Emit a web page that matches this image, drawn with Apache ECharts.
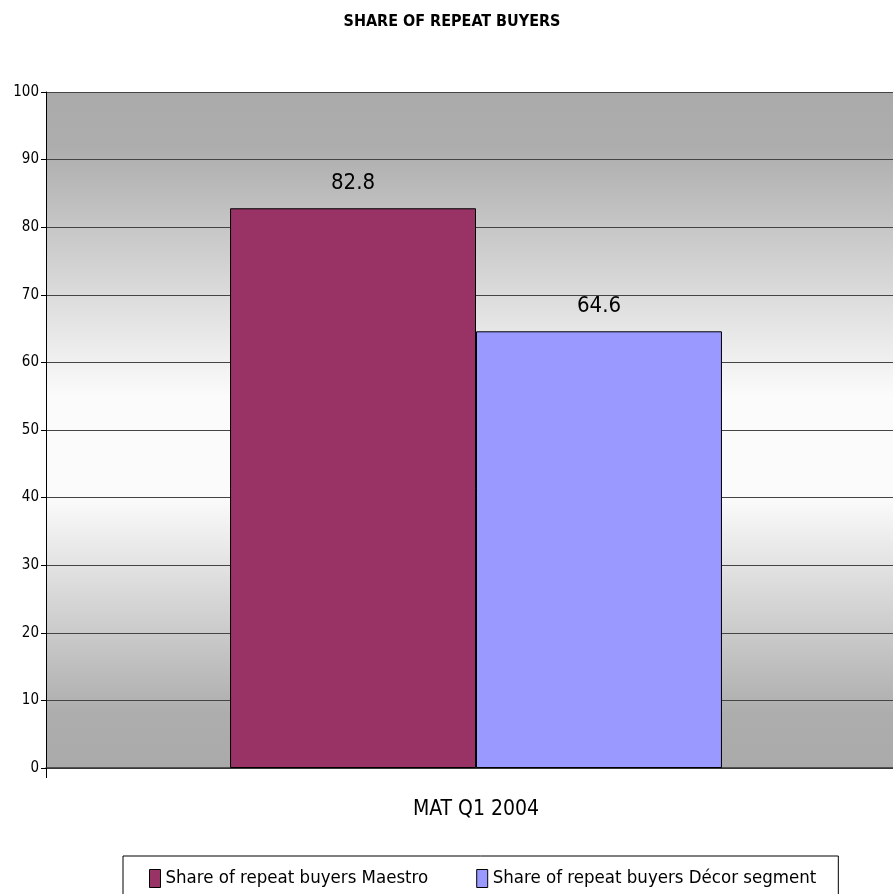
<!DOCTYPE html>
<html>
<head>
<meta charset="utf-8">
<script src="https://cdn.jsdelivr.net/npm/echarts@6/dist/echarts.min.js"></script>
<style>
    html, body { margin: 0; padding: 0; background: #fff; }
    #main { width: 893px; height: 894px; }
</style>
</head>
<body>
<div id="main"></div>
<script>
// 数据
const categories = ['MAT Q1 2004']
const seriesNames = ['Share of repeat buyers Maestro', 'Share of repeat buyers Décor segment']
const maestro = [82.8]
const decor = [64.6]
const yTicks = [0, 10, 20, 30, 40, 50, 60, 70, 80, 90, 100]

const narrow = "'DejaVu Sans Condensed', 'Liberation Sans Narrow', sans-serif"

let myChart = echarts.init(document.querySelector('#main'))

const option = {
    animation: false,
    title: {
        text: 'SHARE OF REPEAT BUYERS',
        left: 447,
        textAlign: 'center',
        top: 9,
        textStyle: {
            fontFamily: narrow,
            fontSize: 16,
            fontWeight: 'bold',
            color: '#000'
        }
    },

    grid: {
        left: 46,
        top: 92,
        width: 860,
        height: 676,
        outerBoundsMode: 'none',
        show: true,
        borderWidth: 0,
        // 背景灰-白-灰渐变
        backgroundColor: {
            type: 'linear',
            x: 0, y: 0, x2: 0, y2: 1,
            colorStops: [
                { offset: 0, color: '#aaaaaa' },
                { offset: 0.08, color: '#adadad' },
                { offset: 0.45, color: '#fbfbfb' },
                { offset: 0.6, color: '#fbfbfb' },
                { offset: 0.92, color: '#adadad' },
                { offset: 1, color: '#aaaaaa' }
            ]
        }
    },

    legend: {
        left: 123,
        top: 856,
        padding: [13, 22, 13, 26],
        itemWidth: 11,
        itemHeight: 18,
        itemGap: 48,
        borderColor: '#000',
        borderWidth: 1,
        icon: 'rect',
        textStyle: {
            fontFamily: narrow,
            fontSize: 18.5,
            color: '#000'
        },
        itemStyle: { borderColor: '#000', borderWidth: 1 },
        data: seriesNames
    },

    xAxis: {
        type: 'category',
        data: categories,
        axisLine: { lineStyle: { color: '#333', width: 1.5 } },
        axisTick: { show: true, length: 10, lineStyle: { color: '#000' } },
        axisLabel: {
            margin: 31,
            fontFamily: narrow,
            fontSize: 21,
            color: '#000'
        }
    },

    yAxis: {
        type: 'value',
        min: yTicks[0],
        max: yTicks[yTicks.length - 1],
        interval: 10,
        axisLine: { show: true, lineStyle: { color: '#000', width: 1 } },
        axisTick: { show: true, length: 5, lineStyle: { color: '#000' } },
        axisLabel: {
            margin: 7,
            fontFamily: narrow,
            fontSize: 15,
            color: '#000'
        },
        splitLine: { lineStyle: { color: '#444', width: 1 } }
    },

    series: [
        {
            name: seriesNames[0],
            type: 'bar',
            data: maestro,
            barGap: '0%',
            barCategoryGap: '42.8%',
            itemStyle: { color: '#993366', borderColor: '#000', borderWidth: 1 },
            label: {
                show: true,
                position: 'top',
                distance: 14,
                fontFamily: narrow,
                fontSize: 22,
                color: '#000'
            }
        },
        {
            name: seriesNames[1],
            type: 'bar',
            data: decor,
            barGap: '0%',
            barCategoryGap: '42.8%',
            itemStyle: { color: '#9999ff', borderColor: '#000', borderWidth: 1 },
            label: {
                show: true,
                position: 'top',
                distance: 14,
                fontFamily: narrow,
                fontSize: 22,
                color: '#000'
            }
        }
    ]
}

myChart.setOption(option)
</script>
</body>
</html>
